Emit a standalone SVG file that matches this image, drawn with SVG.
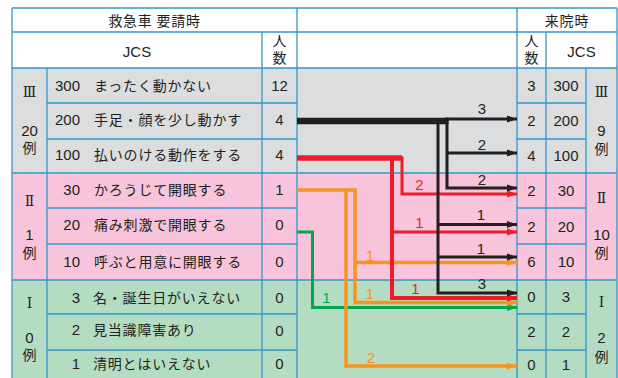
<svg xmlns="http://www.w3.org/2000/svg" width="618" height="378" viewBox="0 0 618 378">
<style>
.t{font-family:"Liberation Sans","Noto Sans CJK JP",sans-serif;font-size:15px;fill:#231f20}
.j{font-family:"Noto Sans CJK JP","Liberation Sans",sans-serif;font-size:14px;fill:#231f20;letter-spacing:0.8px}
.v{font-family:"Noto Sans CJK JP","Liberation Sans",sans-serif;font-size:14px;fill:#231f20;text-anchor:middle}
.rm{font-family:"DejaVu Serif","Liberation Serif",serif;font-size:14px;fill:#231f20;text-anchor:middle}
.c{text-anchor:middle}
.e{text-anchor:end}
.g{stroke:#3596cb;stroke-width:1.3;fill:none}
.k{fill:none;stroke:#231f20;stroke-width:3;stroke-linejoin:miter}
.r{fill:none;stroke:#ec1c2a;stroke-width:3.5}
.o{fill:none;stroke:#f7941d;stroke-width:3.5}
.n{fill:none;stroke:#00a650;stroke-width:3}
.lk{fill:#231f20}.lr{fill:#ec1c2a}.lo{fill:#f7941d}.ln{fill:#00a650}
</style>
<defs>
<marker id="ak" markerUnits="userSpaceOnUse" markerWidth="10" markerHeight="8" refX="10" refY="4" orient="auto"><path d="M0,0.5 L10,4 L0,7.5 z" fill="#231f20"/></marker>
<marker id="ar" markerUnits="userSpaceOnUse" markerWidth="10" markerHeight="8" refX="10" refY="4" orient="auto"><path d="M0,0.5 L10,4 L0,7.5 z" fill="#ec1c2a"/></marker>
<marker id="ao" markerUnits="userSpaceOnUse" markerWidth="10" markerHeight="8" refX="10" refY="4" orient="auto"><path d="M0,0.5 L10,4 L0,7.5 z" fill="#f7941d"/></marker>
<marker id="an" markerUnits="userSpaceOnUse" markerWidth="10" markerHeight="8" refX="10" refY="4" orient="auto"><path d="M0,0.5 L10,4 L0,7.5 z" fill="#00a650"/></marker>
</defs>
<rect width="618" height="378" fill="#ffffff"/>
<g id="bands">
<rect x="12" y="68" width="605" height="105" fill="#dcdddf"/>
<rect x="12" y="173" width="605" height="107" fill="#f7c4db"/>
<rect x="12" y="280" width="605" height="98" fill="#b4dcc2"/>
</g>
<g id="grid" class="g">
<path d="M12,8H617M12,32H617M12,68H617M12,173H617M12,280H617"/>
<path d="M47,103H297M47,139H297M47,208H297M47,244H297M47,314H297M47,350H297"/>
<path d="M517,103H586M517,139H586M517,208H586M517,244H586M517,314H586M517,350H586"/>
<path d="M12,8V378M297,8V378M517,8V378M617,8V378M262,32V378M47,68V378M546,32V378M586,68V378"/>
</g>
<g id="header-left">
<text class="j c" x="154.5" y="26">救急車 要請時</text>
<text class="t c" x="137" y="57">JCS</text>
<text class="v" x="279.5" y="45.5">人</text>
<text class="v" x="279.5" y="62.5">数</text>
</g>
<g id="header-right">
<text class="j c" x="567" y="26">来院時</text>
<text class="v" x="531.5" y="45.5">人</text>
<text class="v" x="531.5" y="62.5">数</text>
<text class="t c" x="581.5" y="57">JCS</text>
</g>
<g id="left-groups">
<text class="rm" x="29.5" y="97">Ⅲ</text>
<text class="t c" x="29.5" y="136">20</text>
<text class="v" x="29.5" y="153">例</text>
<text class="rm" x="29.5" y="206">Ⅱ</text>
<text class="t c" x="29.5" y="240">1</text>
<text class="v" x="29.5" y="257.5">例</text>
<text class="rm" x="29.5" y="308">Ⅰ</text>
<text class="t c" x="29.5" y="343">0</text>
<text class="v" x="29.5" y="360">例</text>
</g>
<g id="right-groups">
<text class="rm" x="601.5" y="97">Ⅲ</text>
<text class="t c" x="601.5" y="136">9</text>
<text class="v" x="601.5" y="154">例</text>
<text class="rm" x="601.5" y="203">Ⅱ</text>
<text class="t c" x="601.5" y="240">10</text>
<text class="v" x="601.5" y="258">例</text>
<text class="rm" x="601.5" y="307">Ⅰ</text>
<text class="t c" x="601.5" y="343">2</text>
<text class="v" x="601.5" y="362">例</text>
</g>
<g id="left-rows">
<g id="L300"><text class="t e" x="80" y="91">300</text><text class="j" x="94" y="91">まったく動かない</text><text class="t c" x="279.5" y="91">12</text></g>
<g id="L200"><text class="t e" x="80" y="125">200</text><text class="j" x="94" y="125">手足・顔を少し動かす</text><text class="t c" x="279.5" y="125">4</text></g>
<g id="L100"><text class="t e" x="80" y="160">100</text><text class="j" x="94" y="160">払いのける動作をする</text><text class="t c" x="279.5" y="160">4</text></g>
<g id="L30"><text class="t e" x="80" y="195">30</text><text class="j" x="94" y="195">かろうじて開眼する</text><text class="t c" x="279.5" y="195">1</text></g>
<g id="L20"><text class="t e" x="80" y="230">20</text><text class="j" x="94" y="230">痛み刺激で開眼する</text><text class="t c" x="279.5" y="230">0</text></g>
<g id="L10"><text class="t e" x="80" y="267">10</text><text class="j" x="94" y="267">呼ぶと用意に開眼する</text><text class="t c" x="279.5" y="267">0</text></g>
<g id="L3"><text class="t e" x="80" y="303">3</text><text class="j" x="93" y="303">名・誕生日がいえない</text><text class="t c" x="279.5" y="303">0</text></g>
<g id="L2"><text class="t e" x="80" y="335">2</text><text class="j" x="93" y="335">見当識障害あり</text><text class="t c" x="279.5" y="336">0</text></g>
<g id="L1"><text class="t e" x="80" y="369">1</text><text class="j" x="93" y="369">清明とはいえない</text><text class="t c" x="279.5" y="369">0</text></g>
</g>
<g id="right-rows">
<g id="R300"><text class="t c" x="531.5" y="91">3</text><text class="t c" x="566" y="91">300</text></g>
<g id="R200"><text class="t c" x="531.5" y="126">2</text><text class="t c" x="566" y="126">200</text></g>
<g id="R100"><text class="t c" x="531.5" y="161">4</text><text class="t c" x="566" y="161">100</text></g>
<g id="R30"><text class="t c" x="531.5" y="196">2</text><text class="t c" x="566" y="196">30</text></g>
<g id="R20"><text class="t c" x="531.5" y="232">2</text><text class="t c" x="566" y="232">20</text></g>
<g id="R10"><text class="t c" x="531.5" y="267">6</text><text class="t c" x="566" y="267">10</text></g>
<g id="R3"><text class="t c" x="531.5" y="302">0</text><text class="t c" x="566" y="302">3</text></g>
<g id="R2"><text class="t c" x="531.5" y="337">2</text><text class="t c" x="566" y="337">2</text></g>
<g id="R1"><text class="t c" x="531.5" y="370">0</text><text class="t c" x="566" y="370">1</text></g>
</g>
<g id="connectors">
<path class="n" d="M297,232H312.5V307.5H517" marker-end="url(#an)"/>
<path class="o" d="M297,190H355V302.5H517" marker-end="url(#ao)"/>
<path class="o" d="M355,262.5H517" marker-end="url(#ao)"/>
<path class="o" d="M346,190V366H517" marker-end="url(#ao)"/>
<path class="r" d="M297,158H402V194H517" style="stroke-width:3" marker-end="url(#ar)"/>
<path class="r" d="M297,158H392V298H517" style="stroke-width:4" marker-end="url(#ar)"/>
<path class="r" d="M392,232H517" style="stroke-width:3" marker-end="url(#ar)"/>
<path class="r" d="M297,158H402" style="stroke-width:5.5"/>
<path class="k" d="M438,121V293H517" marker-end="url(#ak)"/>
<path class="k" d="M438,224.5H517" marker-end="url(#ak)"/>
<path class="k" d="M438,257H517" marker-end="url(#ak)"/>
<path class="k" d="M447,119V188H517" marker-end="url(#ak)"/>
<path class="k" d="M447,153H517" marker-end="url(#ak)"/>
<path class="k" d="M445,119H517" marker-end="url(#ak)"/>
<path class="k" d="M297,121H448.5" style="stroke-width:6.5"/>
<text class="t c lk" x="482" y="114">3</text>
<text class="t c lk" x="482" y="150">2</text>
<text class="t c lk" x="482" y="185">2</text>
<text class="t c lr" x="419.5" y="190">2</text>
<text class="t c lk" x="481" y="220">1</text>
<text class="t c lr" x="419.5" y="228">1</text>
<text class="t c lk" x="481" y="254">1</text>
<text class="t c lo" x="370" y="261">1</text>
<text class="t c lk" x="482" y="289">3</text>
<text class="t c lo" x="370" y="299">1</text>
<text class="t c lr" x="415.5" y="294">1</text>
<text class="t c ln" x="326.5" y="303">1</text>
<text class="t c lo" x="371" y="363">2</text>
</g>
</svg>
